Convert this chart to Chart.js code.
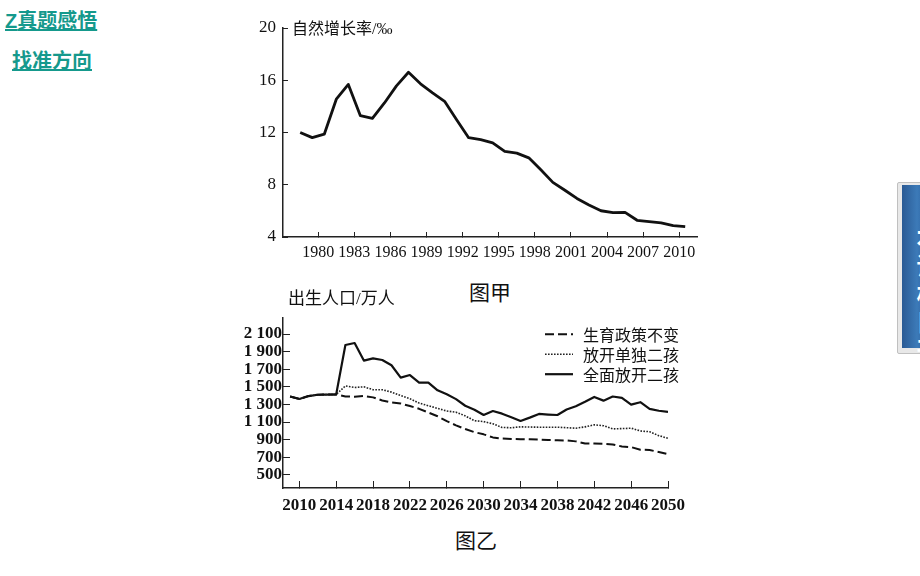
<!DOCTYPE html>
<html lang="zh">
<head>
<meta charset="utf-8">
<title>自然增长率与出生人口</title>
<script src="https://cdn.jsdelivr.net/npm/chart.js@4.4.1/dist/chart.umd.min.js"></script>
<style>
  html, body { margin: 0; padding: 0; background: #fff; }
  body { width: 920px; height: 576px; position: relative; overflow: hidden;
         font-family: "Liberation Serif", "Noto Sans CJK SC", serif; color: #111; }
  .nav { position: absolute; color: #15998c; font-weight: bold; font-size: 20px;
         text-decoration: underline; font-family: "Noto Sans CJK SC", sans-serif; line-height: 1; }
  .txt { position: absolute; white-space: nowrap; line-height: 1; }
  canvas { position: absolute; }
  #tabOuter { position: absolute; left: 897px; top: 182px; width: 30px; height: 170px;
              background: #e8e8e8; border: 1px solid #c0c0c0; border-radius: 2px; }
  #tabInner { position: absolute; left: 902px; top: 185px; width: 25px; height: 163px;
              background: linear-gradient(to right, #2a5a94, #3c7ab8 60%, #2d64a2); }
  #tabText { position: absolute; left: 911px; top: 226px; color: #fff; font-weight: bold;
             font-size: 24px; writing-mode: vertical-rl; letter-spacing: 4px;
             font-family: "Noto Sans CJK SC", sans-serif; }
</style>
</head>
<body>
<div class="nav" style="left:5px;top:10px;"><span style="font-family:Arial,'Liberation Sans',sans-serif;">Z</span>真题感悟</div>
<div class="nav" style="left:12px;top:50px;">找准方向</div>

<div id="tabOuter"></div>
<div id="tabInner"></div>
<div id="tabText">本课栏目开关</div>

<canvas id="rateChart" width="480" height="270" style="left:230px;top:0;"></canvas>
<div class="txt" style="left:292px;top:21px;font-size:16px;">自然增长率/‰</div>
<div class="txt" style="left:469px;top:283px;font-size:21px;">图甲</div>

<canvas id="birthChart" width="480" height="225" style="left:230px;top:300px;"></canvas>
<div class="txt" style="left:288px;top:290px;font-size:17px;">出生人口/万人</div>
<div class="txt" style="left:455px;top:531px;font-size:21px;">图乙</div>

<script>
// 图甲：自然增长率（‰）
const rateYears = [1978, 1979, 1980, 1981, 1982, 1983, 1984, 1985, 1986, 1987, 1988,
  1989, 1990, 1991, 1992, 1993, 1994, 1995, 1996, 1997, 1998, 1999, 2000, 2001, 2002,
  2003, 2004, 2005, 2006, 2007, 2008, 2009, 2010];
const rateValues = [12.00, 11.61, 11.87, 14.55, 15.68, 13.29, 13.08, 14.26, 15.57, 16.61, 15.73,
  15.04, 14.39, 12.98, 11.60, 11.45, 11.21, 10.55, 10.42, 10.06, 9.14, 8.18, 7.58, 6.95, 6.45,
  6.01, 5.87, 5.89, 5.28, 5.17, 5.08, 4.87, 4.79];
const rateYearTicks = [1980, 1983, 1986, 1989, 1992, 1995, 1998, 2001, 2004, 2007, 2010];
const rateTicks = [4, 8, 12, 16, 20];

// 图乙：出生人口（万人）
const birthYears = [2009, 2010, 2011, 2012, 2013, 2014, 2015, 2016, 2017, 2018, 2019, 2020,
  2021, 2022, 2023, 2024, 2025, 2026, 2027, 2028, 2029, 2030, 2031, 2032, 2033, 2034, 2035,
  2036, 2037, 2038, 2039, 2040, 2041, 2042, 2043, 2044, 2045, 2046, 2047, 2048, 2049, 2050];
const noChange = [1390, 1362, 1395, 1410, 1412, 1414, 1390, 1388, 1395, 1380, 1345, 1322,
  1310, 1282, 1250, 1208, 1165, 1110, 1062, 1020, 985, 960, 925, 912, 908, 905, 903,
  900, 895, 892, 891, 880, 855, 855, 852, 845, 822, 815, 785, 782, 760, 735];
const singleChild = [1390, 1362, 1395, 1410, 1412, 1414, 1510, 1492, 1500, 1467, 1467, 1440,
  1400, 1365, 1315, 1285, 1255, 1225, 1212, 1170, 1115, 1105, 1080, 1038, 1035, 1045, 1043,
  1041, 1041, 1041, 1035, 1030, 1045, 1068, 1058, 1022, 1025, 1030, 998, 990, 945, 915];
const fullTwoChild = [1390, 1362, 1395, 1410, 1412, 1414, 1975, 1998, 1798, 1823, 1805, 1745,
  1605, 1634, 1548, 1548, 1460, 1415, 1360, 1285, 1240, 1180, 1225, 1195, 1155, 1112, 1150,
  1192, 1185, 1180, 1242, 1280, 1330, 1385, 1343, 1390, 1375, 1297, 1325, 1250, 1228, 1215];
const birthSeriesNames = ['生育政策不变', '放开单独二孩', '全面放开二孩'];
const birthYearTicks = [2010, 2014, 2018, 2022, 2026, 2030, 2034, 2038, 2042, 2046, 2050];
const birthTicks = [500, 700, 900, 1100, 1300, 1500, 1700, 1900, 2100];
const birthTickLabels = ['500', '700', '900', '1 100', '1 300', '1 500', '1 700', '1 900', '2 100'];

const serif = '"Liberation Serif", "Noto Sans CJK SC", serif';

function fixedTicks(values) {
  return scale => { scale.ticks = values.map(v => ({ value: v })); };
}

// 坐标轴公共样式：刻度朝内，不画网格
function axis(extra) {
  return Object.assign({
    type: 'linear',
    grid: { drawOnChartArea: false, color: '#222', lineWidth: 1, tickLength: -5 },
    border: { display: true, color: '#222', width: 1.5 },
  }, extra);
}

new Chart(document.getElementById('rateChart'), {
  type: 'line',
  data: {
    datasets: [{
      // 年度数值画在年中
      data: rateYears.map((yr, i) => ({ x: yr + 0.5, y: rateValues[i] })),
      borderColor: '#111',
      borderWidth: 2.8,
      pointRadius: 0,
      tension: 0,
      borderJoinStyle: 'round'
    }]
  },
  options: {
    responsive: false,
    devicePixelRatio: 1,
    animation: false,
    layout: { padding: { top: 28, right: 13, left: 0, bottom: 0 } },
    plugins: { legend: { display: false }, tooltip: { enabled: false } },
    scales: {
      x: axis({
        min: 1977.07, max: 2011.48,
        afterBuildTicks: fixedTicks(rateYearTicks),
        afterFit: s => { s.height = 33; },
        ticks: { color: '#111', font: { family: serif, size: 16 }, padding: 11, maxRotation: 0,
                 autoSkip: false, callback: v => String(v) }
      }),
      y: axis({
        min: 4, max: 20,
        afterBuildTicks: fixedTicks(rateTicks),
        afterFit: s => { s.width = 53; },
        ticks: { color: '#111', font: { family: serif, size: 17 }, padding: 12,
                 autoSkip: false, callback: v => String(v) }
      })
    }
  }
});

// 图例画在绘图区右上角，线型取自数据集
const insideLegend = {
  id: 'insideLegend',
  afterDraw(chart, args, opts) {
    const ctx = chart.ctx;
    const area = chart.chartArea;
    ctx.save();
    ctx.font = opts.font;
    ctx.fillStyle = '#111';
    ctx.textBaseline = 'middle';
    chart.data.datasets.forEach((ds, i) => {
      const y = area.top + opts.top + i * opts.rowGap;
      const x0 = area.right - opts.right;
      ctx.strokeStyle = ds.borderColor;
      ctx.lineWidth = ds.borderWidth;
      ctx.setLineDash(ds.borderDash || []);
      ctx.beginPath();
      ctx.moveTo(x0, y);
      ctx.lineTo(x0 + opts.sample, y);
      ctx.stroke();
      ctx.fillText(ds.label, x0 + opts.sample + opts.gap, y + 1);
    });
    ctx.restore();
  }
};

const birthStyles = [
  { borderDash: [9, 4], borderWidth: 2, borderColor: '#111' },
  { borderDash: [1.6, 1.4], borderWidth: 1.6, borderColor: '#222' },
  { borderDash: [], borderWidth: 2.2, borderColor: '#111' }
];
const birthValues = [noChange, singleChild, fullTwoChild];

new Chart(document.getElementById('birthChart'), {
  type: 'line',
  data: {
    datasets: birthValues.map((vals, k) => Object.assign({
      label: birthSeriesNames[k],
      data: birthYears.map((yr, i) => ({ x: yr, y: vals[i] })),
      pointRadius: 0,
      tension: 0,
      borderJoinStyle: 'round'
    }, birthStyles[k]))
  },
  options: {
    responsive: false,
    devicePixelRatio: 1,
    animation: false,
    layout: { padding: { top: 7, right: 42, left: 0, bottom: 0 } },
    plugins: {
      legend: { display: false },
      tooltip: { enabled: false },
      insideLegend: { font: '16px "Noto Sans CJK SC", sans-serif', top: 16, rowGap: 20,
                      right: 123, sample: 28, gap: 10 }
    },
    scales: {
      x: axis({
        min: 2008.23, max: 2050,
        afterBuildTicks: fixedTicks(birthYearTicks),
        afterFit: s => { s.height = 37; },
        grid: { drawOnChartArea: false, color: '#222', lineWidth: 1, tickLength: -7 },
        ticks: { color: '#111', font: { family: serif, size: 17, weight: 'bold' }, padding: 14,
                 maxRotation: 0, autoSkip: false, callback: v => String(v) }
      }),
      y: axis({
        min: 350, max: 2280,
        afterBuildTicks: fixedTicks(birthTicks),
        afterFit: s => { s.width = 53; },
        grid: { drawOnChartArea: false, color: '#222', lineWidth: 1, tickLength: -7 },
        ticks: { color: '#111', font: { family: serif, size: 17, weight: 'bold' }, padding: 8,
                 autoSkip: false, callback: v => birthTickLabels[birthTicks.indexOf(v)] }
      })
    }
  },
  plugins: [insideLegend]
});
</script>
</body>
</html>
